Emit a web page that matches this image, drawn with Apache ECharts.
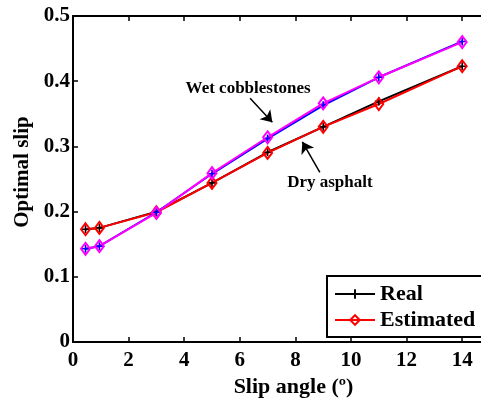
<!DOCTYPE html>
<html>
<head>
<meta charset="utf-8">
<script src="https://cdn.jsdelivr.net/npm/echarts@6/dist/echarts.min.js"></script>
<style>
html,body{margin:0;padding:0;background:#fff;}
#c{width:481px;height:400px;}
</style>
</head>
<body>
<div id="c"></div>
<script>
const angles = [0.45, 0.95, 3, 5, 7, 9, 11, 14];
const dryReal = [0.173, 0.175, 0.200, 0.244, 0.291, 0.330, 0.369, 0.423];
const dryEst  = [0.173, 0.175, 0.199, 0.244, 0.290, 0.330, 0.365, 0.423];
const wetReal = [0.143, 0.147, 0.199, 0.258, 0.312, 0.363, 0.406, 0.461];
const wetEst  = [0.143, 0.147, 0.198, 0.259, 0.314, 0.366, 0.406, 0.460];
const xTicks = [0, 2, 4, 6, 8, 10, 12, 14];
const yTicks = [0, 0.1, 0.2, 0.3, 0.4, 0.5];
const legendNames = ['Real', 'Estimated'];
const labelWet = 'Wet cobblestones';
const labelDry = 'Dry asphalt';
const wetTextAt = [6.3, 0.389];
const wetArrow = [[6.37, 0.374], [7.17, 0.337]];
const dryTextAt = [9.24, 0.245];
const dryArrow = [[8.88, 0.260], [8.25, 0.307]];

const FONT = 'Liberation Serif';
const pair = (ys) => angles.map((a, i) => [a, ys[i]]);
const plus = 'path://M-1,-5L1,-5L1,-1L5,-1L5,1L1,1L1,5L-1,5L-1,1L-5,1L-5,-1L-1,-1Z';

const chart = echarts.init(document.getElementById('c'), null, {renderer: 'canvas'});
const axisText = {fontFamily: FONT, fontWeight: 'bold', fontSize: 21, color: '#000'};

chart.setOption({
  animation: false,
  backgroundColor: '#fff',
  grid: {left: 73, top: 16, bottom: 58, right: -9, containLabel: false, outerBoundsMode: 'none'},
  legend: {
    data: legendNames,
    orient: 'vertical',
    left: 327, top: 276,
    borderColor: '#000', borderWidth: 2,
    padding: [7, 10, 6, 7],
    itemWidth: 40, itemHeight: 12, itemGap: 4,
    textStyle: {fontFamily: FONT, fontWeight: 'bold', fontSize: 22, color: '#000', lineHeight: 22},
    backgroundColor: '#fff'
  },
  xAxis: [{
    type: 'value', min: 0, max: 15, interval: 2,
    name: 'Slip angle (º)', nameLocation: 'middle', nameGap: 34,
    nameTextStyle: {fontFamily: FONT, fontWeight: 'bold', fontSize: 22, color: '#000', padding: [0, 0, 0, 24]},
    axisLine: {lineStyle: {color: '#000', width: 2}},
    axisTick: {inside: true, length: 5, lineStyle: {color: '#000', width: 1.5}},
    axisLabel: Object.assign({margin: 8, formatter: v => xTicks.includes(v) ? String(v) : ''}, axisText),
    splitLine: {show: false}
  }, {
    type: 'value', min: 0, max: 15, interval: 2, position: 'top',
    axisLine: {show: true, lineStyle: {color: '#000', width: 2}},
    axisTick: {show: true, inside: true, length: 5, lineStyle: {color: '#000', width: 1.5}},
    axisLabel: {show: false},
    splitLine: {show: false}
  }],
  yAxis: {
    type: 'value', min: 0, max: 0.5, interval: 0.1,
    name: 'Optimal slip', nameLocation: 'middle', nameGap: 39,
    nameTextStyle: {fontFamily: FONT, fontWeight: 'bold', fontSize: 21, color: '#000', padding: [0, 0, 0, 14]},
    axisLine: {show: true, lineStyle: {color: '#000', width: 2}},
    axisTick: {show: true, inside: true, length: 5, lineStyle: {color: '#000', width: 1.5}},
    axisLabel: Object.assign({margin: 3, formatter: v => {
      const t = yTicks.find(k => Math.abs(k - v) < 1e-9);
      return t === undefined ? '' : (t === 0 ? '0' : t.toFixed(1));
    }}, axisText),
    splitLine: {show: false}
  },
  series: [{
    name: 'Real', type: 'line', data: pair(dryReal),
    symbol: plus, symbolSize: 8, showAllSymbol: true,
    lineStyle: {color: '#000', width: 2}, itemStyle: {color: '#000'},
    markLine: {
      silent: true, symbol: ['none', 'arrow'], symbolSize: 11,
      label: {show: false},
      lineStyle: {color: '#000', width: 1.5, type: 'solid'},
      data: [
        [{coord: wetArrow[0]}, {coord: wetArrow[1]}],
        [{coord: dryArrow[0]}, {coord: dryArrow[1]}]
      ]
    },
    markPoint: {
      silent: true, symbol: 'circle', symbolSize: 0,
      label: {show: true, position: 'inside', fontFamily: FONT, fontWeight: 'bold', fontSize: 17, color: '#000', formatter: p => p.name},
      data: [
        {name: labelWet, coord: wetTextAt},
        {name: labelDry, coord: dryTextAt}
      ]
    }
  }, {
    name: 'Estimated', type: 'line', data: pair(dryEst),
    symbol: 'diamond', symbolSize: [9, 12],
    lineStyle: {color: '#ff0000', width: 2},
    itemStyle: {color: 'rgba(255,255,255,0)', borderColor: '#ff0000', borderWidth: 2}
  }, {
    name: 'Real', type: 'line', data: pair(wetReal),
    symbol: plus, symbolSize: 8,
    lineStyle: {color: '#0000ff', width: 2}, itemStyle: {color: '#0000ff'}
  }, {
    name: 'Estimated', type: 'line', data: pair(wetEst),
    symbol: 'diamond', symbolSize: [9, 12],
    lineStyle: {color: '#ff00ff', width: 2},
    itemStyle: {color: 'rgba(255,255,255,0)', borderColor: '#ff00ff', borderWidth: 2}
  }]
});
</script>
</body>
</html>
